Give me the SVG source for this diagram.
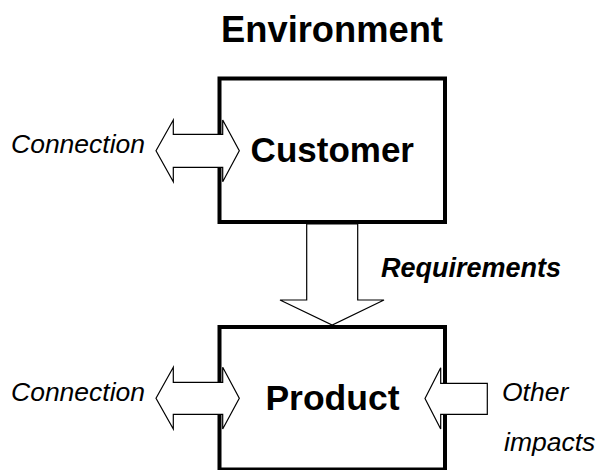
<svg xmlns="http://www.w3.org/2000/svg" width="599" height="470" viewBox="0 0 599 470">
  <style>
    .box { fill: #fff; stroke: #000; stroke-width: 4; }
    .arrow { fill: #fff; stroke: #000; stroke-width: 1.2; stroke-linejoin: miter; }
    .title { font-family: "Liberation Sans", Arial, sans-serif; font-weight: bold; fill: #000; }
    .label { font-family: "Liberation Sans", Arial, sans-serif; font-style: italic; fill: #000; font-size: 26.5px; }
  </style>
  <rect width="599" height="470" fill="#fff"/>

  <text class="title" x="332" y="41.5" font-size="36.3" text-anchor="middle">Environment</text>

  <g id="customer">
    <rect class="box" x="219.5" y="78.5" width="225.5" height="143.5"/>
    <text class="title" x="332.3" y="161.5" font-size="35" text-anchor="middle">Customer</text>
  </g>

  <g id="product">
    <rect class="box" x="219.5" y="327" width="225.5" height="142.5"/>
    <text class="title" x="332.5" y="410" font-size="35.5" text-anchor="middle">Product</text>
  </g>

  <g id="connectors">
    <!-- two-way connection into the customer -->
    <polygon class="arrow" points="156,150.7 173.3,120 173.3,134.3 222.7,134.3 222.7,120 239.3,150.7 222.7,181.7 222.7,167.3 173.3,167.3 173.3,181.7"/>
    <!-- two-way connection into the product -->
    <polygon class="arrow" points="156,398.3 173.3,367.3 173.3,382.3 222.7,382.3 222.7,367.3 239.3,398.3 222.7,429 222.7,414.3 173.3,414.3 173.3,429"/>
    <!-- requirements flow from customer to product -->
    <polygon class="arrow" points="306.7,224 357.7,224 357.7,300 384,300 332.2,325 280,300 306.7,300"/>
    <!-- other impacts acting on the product -->
    <polygon class="arrow" points="425,398.5 440.7,367.7 440.7,383.3 487.3,383.3 487.3,414.3 440.7,414.3 440.7,429"/>
  </g>

  <g id="labels">
    <text class="label" x="11" y="153.3">Connection</text>
    <text class="label" x="11" y="400.7">Connection</text>
    <text class="title" x="381" y="277.3" font-size="27" font-style="italic">Requirements</text>
    <text class="label" x="502" y="401" font-size="27">Other</text>
    <text class="label" x="504" y="451" font-size="27">impacts</text>
  </g>
</svg>
